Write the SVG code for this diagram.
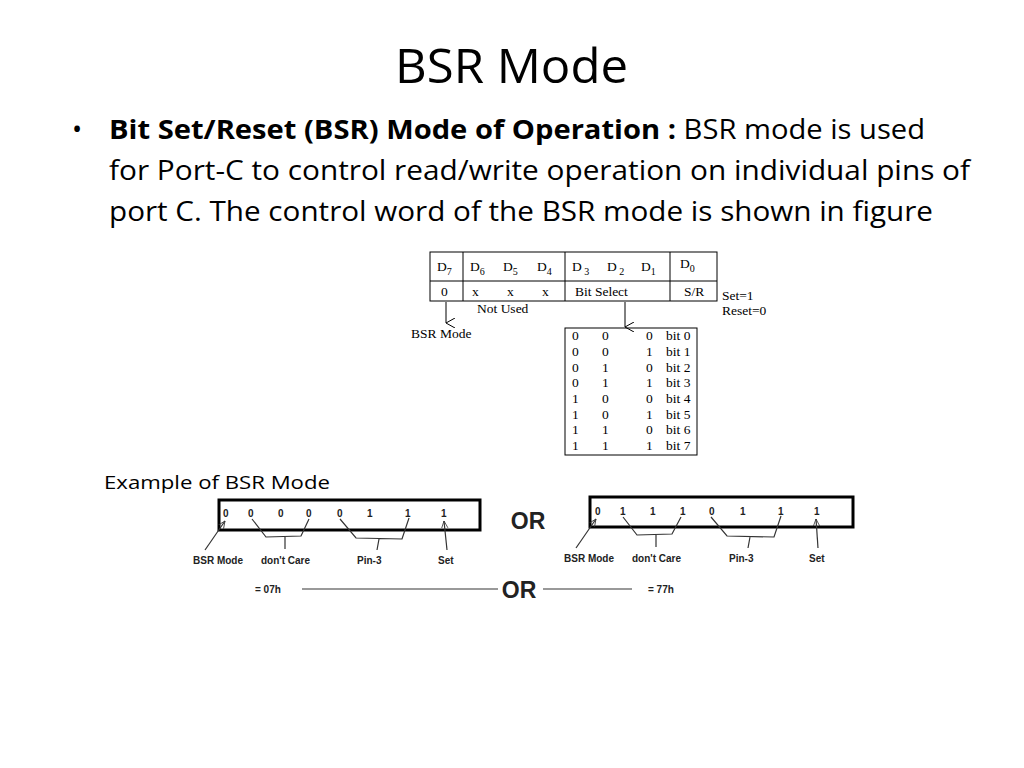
<svg xmlns="http://www.w3.org/2000/svg" width="1024" height="768" viewBox="0 0 1024 768">
<style>
.t{font-family:"Liberation Serif",serif;font-size:13.5px;fill:#000}
.h{font-family:"Open Sans","Liberation Sans",sans-serif;fill:#000}
.b{font-family:"Liberation Sans",sans-serif;font-weight:bold;font-size:10px;fill:#222}
.ln{stroke:#000;stroke-width:1;fill:none}
.g{stroke:#333;stroke-width:1.2;fill:none}
</style>
<defs>
<marker id="v" viewBox="0 0 10 10" refX="5" refY="9" markerWidth="10" markerHeight="10" orient="auto-start-reverse" markerUnits="userSpaceOnUse"><path d="M0,0 L5,9 L10,0" stroke="#000" fill="none"/></marker>
<marker id="a" viewBox="0 0 10 10" refX="9" refY="5" markerWidth="8" markerHeight="8" orient="auto" markerUnits="userSpaceOnUse"><path d="M0,1 L9,5 L0,9" stroke="#333" fill="none"/></marker>
</defs>
<text class="h" x="395" y="83" font-size="47" textLength="233" lengthAdjust="spacingAndGlyphs">BSR Mode</text>
<g id="bullet" class="h" font-size="27">
<text x="72" y="139">•</text>
<text x="109" y="139" textLength="816" lengthAdjust="spacingAndGlyphs"><tspan font-weight="bold">Bit Set/Reset (BSR) Mode of Operation : </tspan>BSR mode is used</text>
<text x="109" y="180" textLength="861" lengthAdjust="spacingAndGlyphs">for Port-C to control read/write operation on individual pins of</text>
<text x="109" y="221" textLength="824" lengthAdjust="spacingAndGlyphs">port C. The control word of the BSR mode is shown in figure</text>
</g>
<g id="control-word">
<rect class="ln" x="430" y="252" width="287" height="49"/>
<line class="ln" x1="430" y1="281" x2="717" y2="281"/>
<line class="ln" x1="463" y1="252" x2="463" y2="301"/>
<line class="ln" x1="565" y1="252" x2="565" y2="301"/>
<line class="ln" x1="670" y1="252" x2="670" y2="301"/>
<g class="t">
<text x="437" y="271">D<tspan font-size="10" dy="4">7</tspan></text>
<text x="470" y="271">D<tspan font-size="10" dy="4">6</tspan></text>
<text x="503" y="271">D<tspan font-size="10" dy="4">5</tspan></text>
<text x="537" y="271">D<tspan font-size="10" dy="4">4</tspan></text>
<text x="572" y="271">D<tspan font-size="10" dy="4"> 3</tspan></text>
<text x="607" y="271">D<tspan font-size="10" dy="4"> 2</tspan></text>
<text x="641" y="271">D<tspan font-size="10" dy="4">1</tspan></text>
<text x="680" y="268">D<tspan font-size="10" dy="4">0</tspan></text>
<text x="441" y="296">0</text>
<text x="472" y="296">x</text>
<text x="507" y="296">x</text>
<text x="542" y="296">x</text>
<text x="575" y="296">Bit Select</text>
<text x="684" y="296">S/R</text>
<text x="722" y="300">Set=1</text>
<text x="722" y="315">Reset=0</text>
<text x="477" y="313">Not Used</text>
<text x="411" y="338">BSR Mode</text>
</g>
</g>
<g id="bit-table">
<rect class="ln" x="565" y="328" width="132" height="127"/>
<g class="t" font-size="12.5">
<text x="572" y="340">0</text><text x="602" y="340">0</text><text x="646" y="340">0</text><text x="666" y="340">bit 0</text>
<text x="572" y="356">0</text><text x="602" y="356">0</text><text x="646" y="356">1</text><text x="666" y="356">bit 1</text>
<text x="572" y="372">0</text><text x="602" y="372">1</text><text x="646" y="372">0</text><text x="666" y="372">bit 2</text>
<text x="572" y="387">0</text><text x="602" y="387">1</text><text x="646" y="387">1</text><text x="666" y="387">bit 3</text>
<text x="572" y="403">1</text><text x="602" y="403">0</text><text x="646" y="403">0</text><text x="666" y="403">bit 4</text>
<text x="572" y="419">1</text><text x="602" y="419">0</text><text x="646" y="419">1</text><text x="666" y="419">bit 5</text>
<text x="572" y="434">1</text><text x="602" y="434">1</text><text x="646" y="434">0</text><text x="666" y="434">bit 6</text>
<text x="572" y="450">1</text><text x="602" y="450">1</text><text x="646" y="450">1</text><text x="666" y="450">bit 7</text>
</g>
</g>
<g id="connectors">
<line class="ln" x1="446" y1="302" x2="446" y2="323" marker-end="url(#v)"/>
<line class="ln" x1="625" y1="302" x2="625" y2="327" marker-end="url(#v)"/>
</g>
<text class="h" x="104" y="489" font-size="19" textLength="226" lengthAdjust="spacingAndGlyphs">Example of BSR Mode</text>
<g id="example1">
<rect x="219" y="500" width="261" height="30" fill="none" stroke="#000" stroke-width="3"/>
<g class="b"><text x="223" y="517">0</text><text x="248" y="517">0</text><text x="278" y="517">0</text><text x="306" y="517">0</text><text x="337" y="517">0</text><text x="367" y="517">1</text><text x="405" y="517">1</text><text x="441" y="517">1</text>
<text x="193" y="564">BSR Mode</text><text x="261" y="564">don't Care</text><text x="357" y="564">Pin-3</text><text x="438" y="564">Set</text></g>
<path class="g" d="M205,550 L225,521" marker-end="url(#a)"/>
<path class="g" d="M252,519 L266,537 L301,536 L309,519 M285,537 L285,549"/>
<path class="g" d="M340,519 L356,538 L402,539 L409,518 M379,539 L377,550"/>
<path class="g" d="M447,550 L444,521" marker-end="url(#a)"/>
</g>
<g id="example2">
<rect x="590" y="497" width="263" height="30" fill="none" stroke="#000" stroke-width="3"/>
<g class="b"><text x="595" y="515">0</text><text x="620" y="515">1</text><text x="650" y="515">1</text><text x="680" y="515">1</text><text x="709" y="515">0</text><text x="740" y="515">1</text><text x="778" y="515">1</text><text x="814" y="515">1</text>
<text x="564" y="562">BSR Mode</text><text x="632" y="562">don't Care</text><text x="729" y="562">Pin-3</text><text x="809" y="562">Set</text></g>
<path class="g" d="M576,548 L596,519" marker-end="url(#a)"/>
<path class="g" d="M623,517 L637,535 L672,534 L681,517 M656,535 L656,547"/>
<path class="g" d="M711,517 L727,536 L774,537 L781,516 M750,537 L748,548"/>
<path class="g" d="M818,548 L816,519" marker-end="url(#a)"/>
</g>
<g id="result">
<text x="528" y="529" font-family="Liberation Sans,sans-serif" font-weight="bold" font-size="23" text-anchor="middle" fill="#222">OR</text>
<text x="519" y="598" font-family="Liberation Sans,sans-serif" font-weight="bold" font-size="23" text-anchor="middle" fill="#222">OR</text>
<text class="b" x="255" y="593">= 07h</text>
<text class="b" x="648" y="593">= 77h</text>
<line x1="302" y1="589" x2="498" y2="589" stroke="#777" stroke-width="1.3"/>
<line x1="543" y1="589" x2="632" y2="589" stroke="#777" stroke-width="1.3"/>
</g>
</svg>
